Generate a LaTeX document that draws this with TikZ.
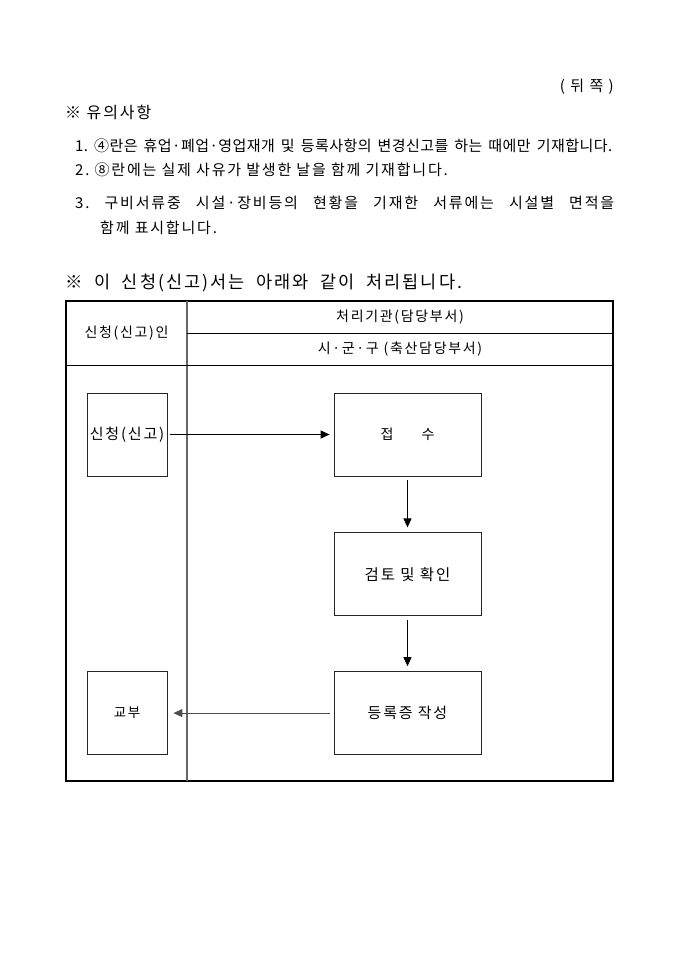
\documentclass[tikz,border=0pt]{standalone}
\usepackage{fontspec}
\setmainfont{Noto Sans CJK KR}[LetterSpace=12]
\usetikzlibrary{arrows.meta,positioning}
\frenchspacing

\begin{document}
\begin{tikzpicture}[
    x=1pt, y=-1pt,
    note/.style={anchor=west, inner sep=0pt, font=\fontsize{15}{17}\selectfont},
    head/.style={inner sep=0pt, font=\fontsize{14}{16}\selectfont},
    userbox/.style={rectangle, draw=black!85, line width=0.8pt, minimum width=80pt, minimum height=83pt, inner sep=0pt, font=\fontsize{15}{17}\selectfont, align=center},
    procbox/.style={rectangle, draw=black!85, line width=0.8pt, minimum width=147pt, minimum height=83pt, inner sep=0pt, font=\fontsize{15.5}{17}\selectfont, align=center},
    arrow/.style={-{Triangle[length=9pt,width=8pt]}, line width=0.9pt},
]
    \useasboundingbox (0,0) rectangle (680,962);

    % Notes on the back page
    \node[note, anchor=east] (side) at (614,87) {\makebox[54pt][s]{( 뒤 쪽 )}};
    \node[note, font=\fontsize{16}{18}\selectfont] (notes) at (65,112) {※ 유의사항};
    \node[note] (item1) at (75,146) {\addfontfeature{LetterSpace=3}\makebox[537pt][s]{1. ④란은 휴업·폐업·영업재개 및 등록사항의 변경신고를 하는 때에만 기재합니다.}};
    \node[note] (item2) at (75,170) {2. ⑧란에는 실제 사유가 발생한 날을 함께 기재합니다.};
    \node[note] (item3) at (75,203) {\makebox[539pt][s]{3. 구비서류중 시설·장비등의 현황을 기재한 서류에는 시설별 면적을}};
    \node[note] (item3b) at (100,228) {함께 표시합니다.};

    % Title of the flow chart
    \node[note, font=\fontsize{17.5}{20}\selectfont] (title) at (65,283) {\makebox[397pt][s]{※ 이 신청(신고)서는 아래와 같이 처리됩니다.}};

    % Table frame
    \draw[line width=2pt] (66,301) rectangle (613,781);
    \draw[black!60, line width=1.4pt] (187,301) -- (187,781);
    \draw[line width=1pt] (187,333) -- (613,333);
    \draw[line width=1pt] (66,365) -- (613,365);

    % Column headers
    \node[head] (who) at (126.5,333) {신청(신고)인};
    \node[head] (office) at (400,317) {처리기관(담당부서)};
    \node[head] (dept) at (400,349) {시·군·구 (축산담당부서)};

    % Process boxes
    \node[userbox] (apply) at (127,434.5) {신청(신고)};
    \node[procbox, font=\fontsize{14}{16}\selectfont] (recv) at (407.5,434.5) {접\hspace{2em}수};
    \node[procbox, below=56pt of recv] (check) {검토 및 확인};
    \node[procbox, below=55pt of check, font=\fontsize{15}{17}\selectfont] (issue) {등록증 작성};
    \node[userbox, font=\fontsize{13.5}{15}\selectfont] (deliver) at (apply |- issue) {교부};

    % Arrows
    \draw[arrow, shorten <=3pt, shorten >=4pt] (apply) -- (recv);
    \draw[arrow, shorten <=4pt, shorten >=5pt] (recv) -- (check);
    \draw[arrow, shorten <=4pt, shorten >=5pt] (check) -- (issue);
    \draw[arrow, shorten <=4pt, shorten >=6pt, black!70] (issue) -- (deliver);
\end{tikzpicture}
\end{document}
